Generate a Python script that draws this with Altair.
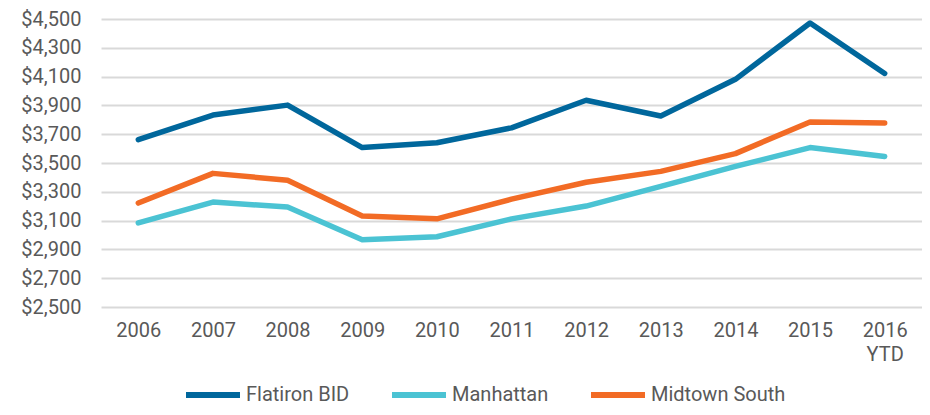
import altair as alt
import pandas as pd

years = ["2006", "2007", "2008", "2009", "2010", "2011", "2012", "2013", "2014", "2015", "2016 YTD"]
flatiron = [3662, 3833, 3902, 3607, 3641, 3744, 3936, 3826, 4081, 4472, 4122]
manhattan = [3084, 3229, 3194, 2967, 2988, 3112, 3201, 3338, 3476, 3607, 3545]
midtown_south = [3222, 3428, 3380, 3132, 3112, 3249, 3366, 3442, 3565, 3785, 3778]

series_names = ["Flatiron BID", "Manhattan", "Midtown South"]
series_colors = ["#00679C", "#4BC3D3", "#F26B25"]
y_ticks = list(range(2500, 4501, 200))

rows = []
for name, vals in zip(series_names, [flatiron, manhattan, midtown_south]):
    for yr, v in zip(years, vals):
        rows.append({"Year": yr, "Series": name, "Value": v})
df = pd.DataFrame(rows)

FONT = "Roboto"
LABEL_COLOR = "#595959"

chart = (
    alt.Chart(df)
    .mark_line(strokeWidth=5.5, strokeCap="round", strokeJoin="round")
    .encode(
        x=alt.X(
            "Year:O",
            sort=years,
            title=None,
            axis=alt.Axis(
                labelAngle=0,
                domain=False,
                ticks=False,
                grid=False,
                labelPadding=13,
                labelFontSize=20,
                labelLineHeight=24,
                labelExpr="datum.value == '2016 YTD' ? ['2016', 'YTD'] : datum.label",
            ),
        ),
        y=alt.Y(
            "Value:Q",
            title=None,
            scale=alt.Scale(domain=[2500, 4500], nice=False, zero=False),
            axis=alt.Axis(
                values=y_ticks,
                format="$,.0f",
                domain=False,
                ticks=False,
                labelPadding=20,
                labelFontSize=20,
                gridColor="#D9D9D9",
                gridWidth=2,
            ),
        ),
        color=alt.Color(
            "Series:N",
            sort=series_names,
            scale=alt.Scale(domain=series_names, range=series_colors),
            legend=alt.Legend(
                title=None,
                orient="none",
                direction="horizontal",
                legendX=82,
                legendY=346,
                symbolType="stroke",
                symbolSize=2916,
                symbolStrokeWidth=6,
                labelFontSize=20,
                labelOffset=3,
                columnPadding=30,
                labelLimit=300,
            ),
        ),
    )
    .properties(
        width=821,
        height=288,
        autosize=alt.AutoSizeParams(type="none"),
        padding={"left": 93, "top": 11, "right": 0, "bottom": 100},
    )
    .configure_view(stroke=None)
    .configure_axis(labelFont=FONT, labelColor=LABEL_COLOR)
    .configure_legend(labelFont=FONT, labelColor=LABEL_COLOR)
)

chart.save("out.html", embed_options={"renderer": "svg", "actions": False})
